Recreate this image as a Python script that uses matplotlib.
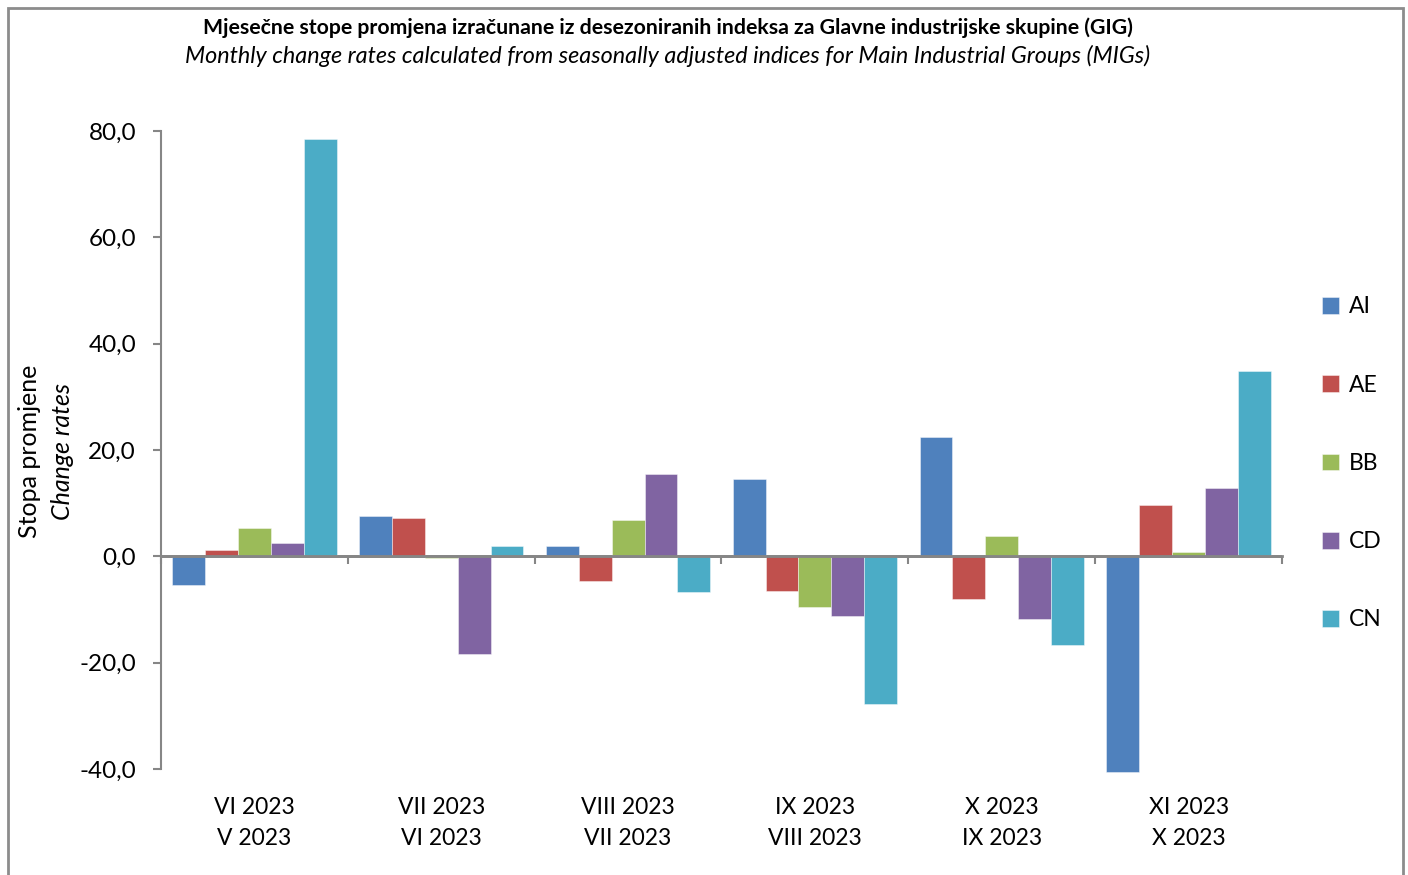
import matplotlib
matplotlib.use("Agg")
import matplotlib.pyplot as plt
import numpy as np
from matplotlib.patches import Rectangle

categories = ["VI 2023\nV 2023", "VII 2023\nVI 2023", "VIII 2023\nVII 2023",
              "IX 2023\nVIII 2023", "X 2023\nIX 2023", "XI 2023\nX 2023"]
series_names = ["AI", "AE", "BB", "CD", "CN"]
AI = [-5.3, 7.5, 2.0, 14.6, 22.4, -40.6]
AE = [1.1, 7.3, -4.6, -6.6, -8.0, 9.7]
BB = [5.4, -0.3, 6.8, -9.6, 3.8, 0.8]
CD = [2.5, -18.4, 15.4, -11.3, -11.8, 12.9]
CN = [78.5, 2.0, -6.7, -27.7, -16.6, 34.9]
colors = ["#4F81BD", "#C0504D", "#9BBB59", "#8064A2", "#4BACC6"]
yticks = [-40, -20, 0, 20, 40, 60, 80]

plt.rcParams['font.family'] = ['Lato', 'DejaVu Sans']

fig = plt.figure(figsize=(14.08, 8.75), dpi=100)
ax = fig.add_axes([161/1408, 1-769/875, (1282-161)/1408, (769-131)/875])

series = [AI, AE, BB, CD, CN]
x = np.arange(len(categories))
bw = 0.176
for i, (name, vals, c) in enumerate(zip(series_names, series, colors)):
    bars = ax.bar(x + (i - 2) * bw, vals, width=bw, color=c, label=name,
                  edgecolor=(1, 1, 1, 0.5), linewidth=0.6, zorder=2)
    for b in bars:
        b.set_clip_on(False)

ax.set_xlim(-0.5, len(categories) - 0.5)
ax.set_ylim(-40, 80)
ax.set_yticks(yticks)
ax.set_yticklabels([f"{v:.1f}".replace(".", ",") for v in yticks], fontsize=17.5)
ax.tick_params(axis='y', direction='out', length=6, width=1.5, color='#868686', pad=12)

ax.set_xticks(x)
ax.set_xticklabels(categories, fontsize=16.5, linespacing=1.62)
ax.tick_params(axis='x', length=0, pad=20)

for s in ['top', 'right', 'bottom']:
    ax.spines[s].set_visible(False)
ax.spines['left'].set_color('#868686')
ax.spines['left'].set_linewidth(1.5)

sec = ax.secondary_xaxis(40/120)
sec.set_xticks(np.arange(len(categories) + 1) - 0.5)
sec.set_xticklabels([])
sec.tick_params(direction='out', length=6, width=1.5, color='#868686')
sec.spines['bottom'].set_color('#868686')
sec.spines['bottom'].set_linewidth(2)
sec.xaxis.set_ticks_position('bottom')
sec.spines['top'].set_visible(False)
ax.axhline(0, color='#868686', lw=2, zorder=3)

leg = ax.legend(loc='center left', bbox_to_anchor=(1.017, 0.479), frameon=False,
                fontsize=16.5, handlelength=0.75, handleheight=0.75, handletextpad=0.45,
                labelspacing=2.5)

fig.text(668/1408, 1-28/875, "Mjesečne stope promjena izračunane iz desezoniranih indeksa za Glavne industrijske skupine (GIG)",
         ha='center', va='center', fontsize=15.3, fontweight='bold')
fig.text(668/1408, 1-56/875, "Monthly change rates calculated from seasonally adjusted indices for Main Industrial Groups (MIGs)",
         ha='center', va='center', fontsize=16.8, style='italic')
fig.text(30/1408, 1-451/875, "Stopa promjene", rotation=90, ha='center', va='center', fontsize=18)
fig.text(62/1408, 1-451/875, "Change rates", rotation=90, ha='center', va='center', fontsize=18, style='italic')

fig.patches.append(Rectangle((8/1408, -0.05), (1403-8)/1408, 1.05 - 8/875,
                             transform=fig.transFigure, fill=False,
                             edgecolor='#8c8c8c', linewidth=2))

fig.savefig("out.png", dpi=100)
